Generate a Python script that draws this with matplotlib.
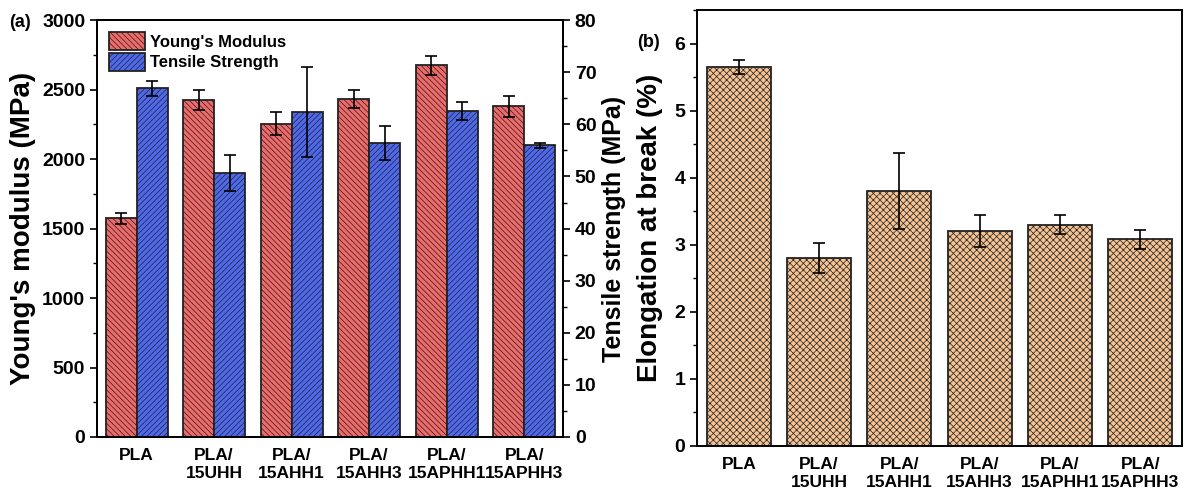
import matplotlib
matplotlib.use("Agg")
import matplotlib.pyplot as plt
import numpy as np
from matplotlib.ticker import MultipleLocator

plt.rcParams["font.family"] = ["Liberation Sans", "DejaVu Sans"]
plt.rcParams["font.weight"] = "bold"
plt.rcParams["hatch.linewidth"] = 0.5

samples = ["PLA", "PLA/\n15UHH", "PLA/\n15AHH1", "PLA/\n15AHH3", "PLA/\n15APHH1", "PLA/\n15APHH3"]
modulus = [1575, 2425, 2255, 2430, 2675, 2380]
modulus_err = [40, 75, 85, 65, 70, 75]
strength = [66.9, 50.7, 62.4, 56.4, 62.5, 56.0]
strength_err = [1.5, 3.4, 8.7, 3.3, 1.7, 0.5]
elongation = [5.65, 2.80, 3.80, 3.20, 3.30, 3.08]
elongation_err = [0.10, 0.22, 0.57, 0.24, 0.14, 0.14]

RED = "#f06a6a"
BLUE = "#4f69ee"
TAN = "#f5c291"


def style_ticks(ax):
    ax.tick_params(axis="y", which="major", direction="out", length=5, width=1.2, labelsize=14)
    ax.tick_params(axis="y", which="minor", direction="out", length=3, width=1.0)
    ax.tick_params(axis="x", length=0, labelsize=12.5, pad=8)
    for s in ax.spines.values():
        s.set_linewidth(1.4)


def panel_a(fig):
    ax = fig.add_axes([0.0818, 0.1118, 0.3929, 0.8472])
    ax2 = ax.twinx()
    x = np.arange(len(samples))
    w = 0.4
    ax.bar(x - w / 2, modulus, w, color=RED, edgecolor="#222222", linewidth=1.3,
           hatch="\\\\\\\\\\\\", label="Young's Modulus", zorder=2)
    ax.errorbar(x - w / 2, modulus, yerr=modulus_err, fmt="none", ecolor="black",
                elinewidth=1.2, capsize=4, capthick=1.2, zorder=3)
    ax2.bar(x + w / 2, strength, w, color=BLUE, edgecolor="#222222", linewidth=1.3,
            hatch="//////", label="Tensile Strength", zorder=2)
    ax2.errorbar(x + w / 2, strength, yerr=strength_err, fmt="none", ecolor="black",
                 elinewidth=1.2, capsize=4, capthick=1.2, zorder=3)
    ax.set_xlim(-0.51, 5.5)
    ax.set_ylim(0, 3000)
    ax2.set_ylim(0, 80)
    ax.yaxis.set_major_locator(MultipleLocator(500))
    ax.yaxis.set_minor_locator(MultipleLocator(250))
    ax2.yaxis.set_major_locator(MultipleLocator(10))
    ax2.yaxis.set_minor_locator(MultipleLocator(5))
    ax.set_xticks(x)
    ax.set_xticklabels(samples, fontweight="bold")
    style_ticks(ax)
    style_ticks(ax2)
    ax.set_ylabel("Young's modulus (MPa)", fontsize=20, fontweight="bold", labelpad=4)
    ax2.set_ylabel("Tensile strength (MPa)", fontsize=18, fontweight="bold", labelpad=4)
    h1, l1 = ax.get_legend_handles_labels()
    h2, l2 = ax2.get_legend_handles_labels()
    ax.legend(h1 + h2, l1 + l2, loc="upper left", frameon=False,
              handlelength=2.2, handleheight=1.3, borderaxespad=0.3,
              labelspacing=0.15, handletextpad=0.3,
              prop={"weight": "bold", "size": 12})
    fig.text(0.008, 0.945, "(a)", fontsize=13, fontweight="bold")


def panel_b(fig):
    ax = fig.add_axes([0.5877, 0.0935, 0.4089, 0.8862])
    x = np.arange(len(samples))
    ax.bar(x, elongation, 0.8, color=TAN, edgecolor="#222222", linewidth=1.3,
           hatch="xxxxx", zorder=2)
    ax.errorbar(x, elongation, yerr=elongation_err, fmt="none", ecolor="black",
                elinewidth=1.2, capsize=4, capthick=1.2, zorder=3)
    ax.set_xlim(-0.52, 5.52)
    ax.set_ylim(0, 6.5)
    ax.yaxis.set_major_locator(MultipleLocator(1))
    ax.yaxis.set_minor_locator(MultipleLocator(0.5))
    ax.set_xticks(x)
    ax.set_xticklabels(samples, fontweight="bold")
    style_ticks(ax)
    ax.set_ylabel("Elongation at break (%)", fontsize=20, fontweight="bold", labelpad=8)
    fig.text(0.537, 0.905, "(b)", fontsize=13, fontweight="bold")


def main():
    fig = plt.figure(figsize=(11.86, 4.92), dpi=100)
    panel_a(fig)
    panel_b(fig)
    fig.savefig("out.png", dpi=100)
    plt.close(fig)


if __name__ == "__main__":
    main()
